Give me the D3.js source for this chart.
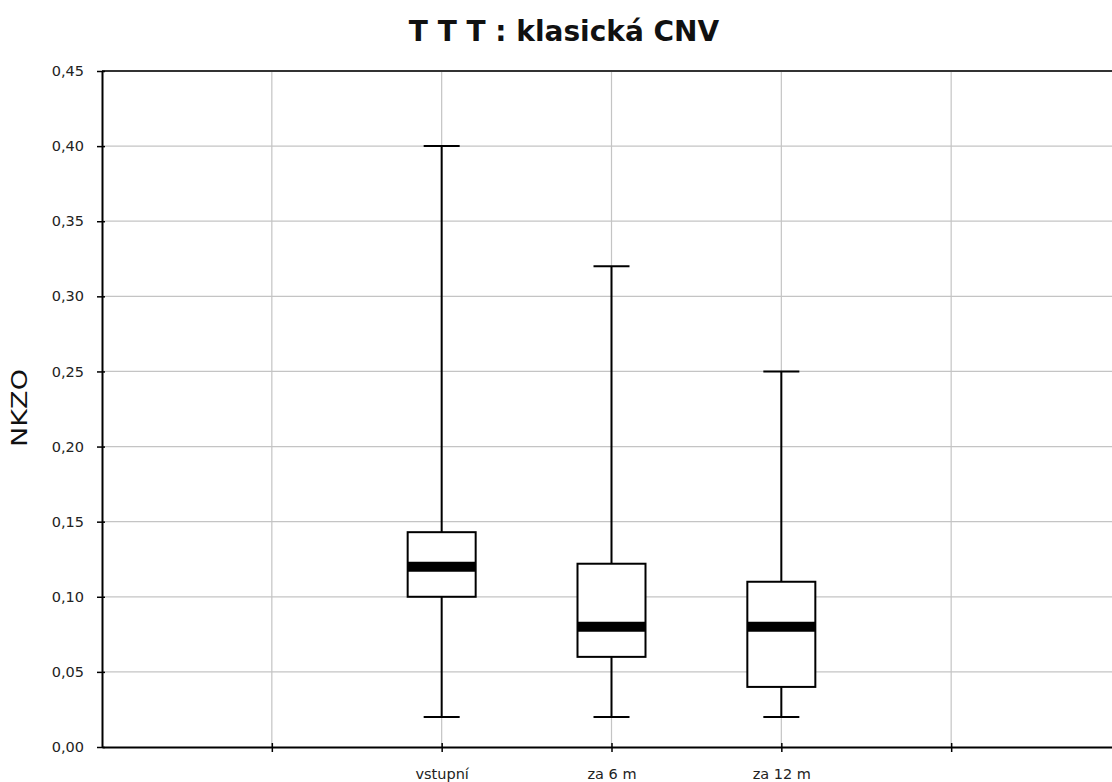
<!DOCTYPE html>
<html><head><meta charset="utf-8">
<script src="https://cdn.jsdelivr.net/npm/d3@7"></script>
<style>body{margin:0;background:#fff}svg{display:block}</style>
</head><body>
<svg id="c" width="1112" height="782"></svg>
<script>
const categories = ["vstupní", "za 6 m", "za 12 m"];
const catPositions = [2, 3, 4];
const whiskerMin = [0.02, 0.02, 0.02];
const q1 = [0.10, 0.06, 0.04];
const median = [0.12, 0.08, 0.08];
const q3 = [0.143, 0.122, 0.11];
const whiskerMax = [0.40, 0.32, 0.25];
const yTicks = [0, 0.05, 0.10, 0.15, 0.20, 0.25, 0.30, 0.35, 0.40, 0.45];
const xGridPositions = [1, 2, 3, 4, 5];
const title = "T T T : klasická CNV";
const yLabel = "NKZO";

const svg = d3.select("#c");
const L = 102, T = 71, B = 747, R = 1121;
const x = d3.scaleLinear().domain([0, 6]).range([L, R]);
const y = d3.scaleLinear().domain([0, 0.45]).range([B, T]);
const fmt = v => v.toFixed(2).replace(".", ",");
const font = "Tahoma, 'DejaVu Sans', sans-serif";

// grid
svg.append("g").selectAll("line").data(yTicks.filter(v => v > 0 && v < 0.45)).join("line")
  .attr("x1", L).attr("x2", R).attr("y1", d => y(d)).attr("y2", d => y(d))
  .attr("stroke", "#c4c4c4").attr("stroke-width", 1.2);
svg.append("g").selectAll("line").data(xGridPositions).join("line")
  .attr("x1", d => x(d)).attr("x2", d => x(d)).attr("y1", T).attr("y2", B)
  .attr("stroke", "#c4c4c4").attr("stroke-width", 1.2);

// top border
svg.append("line").attr("x1", L).attr("x2", R).attr("y1", T).attr("y2", T)
  .attr("stroke", "#333").attr("stroke-width", 2);

// y axis
const yAxis = d3.axisLeft(y).tickValues(yTicks).tickFormat(fmt).tickSize(5).tickSizeOuter(0);
const gy = svg.append("g").attr("transform", `translate(${L},0)`).call(yAxis);
gy.select(".domain").attr("stroke", "#000").attr("stroke-width", 2);
gy.selectAll(".tick line").attr("stroke", "#000").attr("stroke-width", 1.5).attr("x2", 3).attr("x1", -5);
gy.selectAll(".tick text").attr("x", -18).attr("font-family", font).attr("font-size", 14.5).attr("fill", "#222");

// x axis
const xAxis = d3.axisBottom(x).tickValues(xGridPositions)
  .tickFormat(d => { const i = catPositions.indexOf(d); return i >= 0 ? categories[i] : ""; })
  .tickSize(4).tickSizeOuter(0);
const gx = svg.append("g").attr("transform", `translate(0,${B})`).call(xAxis);
gx.select(".domain").attr("stroke", "#000").attr("stroke-width", 2);
gx.selectAll(".tick line").attr("stroke", "#000").attr("stroke-width", 1.5).attr("y1", -4).attr("y2", 5);
gx.selectAll(".tick text").attr("y", 32).attr("dy", 0).attr("font-family", font).attr("font-size", 14.5).attr("fill", "#222");

// boxes
const boxW = 68, capW = 36;
const data = categories.map((c, i) => ({ pos: catPositions[i], min: whiskerMin[i], q1: q1[i], med: median[i], q3: q3[i], max: whiskerMax[i] }));
const g = svg.append("g").selectAll("g").data(data).join("g");
g.append("line").attr("x1", d => x(d.pos)).attr("x2", d => x(d.pos))
  .attr("y1", d => y(d.max)).attr("y2", d => y(d.q3)).attr("stroke", "#000").attr("stroke-width", 2);
g.append("line").attr("x1", d => x(d.pos)).attr("x2", d => x(d.pos))
  .attr("y1", d => y(d.q1)).attr("y2", d => y(d.min)).attr("stroke", "#000").attr("stroke-width", 2);
g.append("line").attr("x1", d => x(d.pos) - capW / 2).attr("x2", d => x(d.pos) + capW / 2)
  .attr("y1", d => y(d.max)).attr("y2", d => y(d.max)).attr("stroke", "#000").attr("stroke-width", 2);
g.append("line").attr("x1", d => x(d.pos) - capW / 2).attr("x2", d => x(d.pos) + capW / 2)
  .attr("y1", d => y(d.min)).attr("y2", d => y(d.min)).attr("stroke", "#000").attr("stroke-width", 2);
g.append("rect").attr("x", d => x(d.pos) - boxW / 2).attr("width", boxW)
  .attr("y", d => y(d.q3)).attr("height", d => y(d.q1) - y(d.q3))
  .attr("fill", "#fff").attr("stroke", "#000").attr("stroke-width", 2);
g.append("line").attr("x1", d => x(d.pos) - boxW / 2).attr("x2", d => x(d.pos) + boxW / 2)
  .attr("y1", d => y(d.med)).attr("y2", d => y(d.med)).attr("stroke", "#000").attr("stroke-width", 10);

// title
svg.append("text").attr("x", 564).attr("y", 41).attr("text-anchor", "middle")
  .attr("font-family", font).attr("font-weight", "bold").attr("font-size", 28).attr("fill", "#111").text(title);

// y label
svg.append("text").attr("transform", `translate(27,${y(0.225) - 1}) rotate(-90)`).attr("text-anchor", "middle")
  .attr("font-family", font).attr("font-size", 22).attr("textLength", 78).attr("lengthAdjust", "spacingAndGlyphs")
  .attr("fill", "#111").text(yLabel);
</script>
</body></html>
